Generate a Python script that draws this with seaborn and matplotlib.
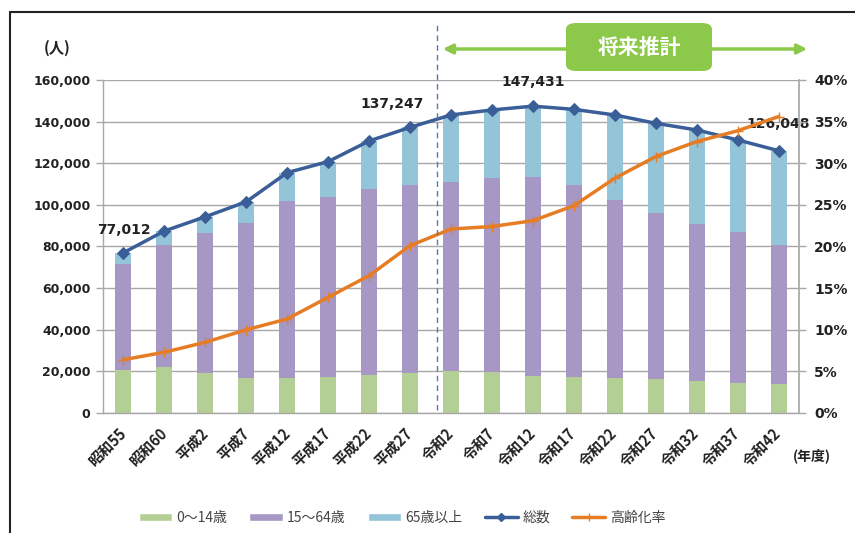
import matplotlib

matplotlib.use("Agg")
import matplotlib.pyplot as plt
import numpy as np
import seaborn as sns
from matplotlib.lines import Line2D
from matplotlib.patches import FancyArrowPatch, FancyBboxPatch, Patch

# data
years = ["昭和55", "昭和60", "平成2", "平成7", "平成12", "平成17", "平成22", "平成27",
         "令和2", "令和7", "令和12", "令和17", "令和22", "令和27", "令和32", "令和37", "令和42"]
young = [20700, 22250, 19100, 16700, 16700, 17450, 18250, 19400,
         20300, 19700, 17800, 17300, 17000, 16200, 15400, 14600, 13900]
working = [50900, 58450, 67200, 74800, 85200, 86450, 89250, 90200,
           90900, 93400, 95600, 92100, 85200, 79900, 75600, 72200, 66700]
elderly = [5412, 6750, 8000, 10000, 13600, 16900, 23200, 27647,
           32000, 32500, 34031, 36500, 41000, 43100, 45000, 44400, 45448]
total = [77012, 87450, 94300, 101500, 115500, 120800, 130700, 137247,
         143200, 145600, 147431, 145900, 143200, 139200, 136000, 131200, 126048]
aging_rate = [6.4, 7.3, 8.5, 10.0, 11.3, 13.9, 16.5, 20.1,
              22.1, 22.4, 23.1, 24.9, 28.2, 30.8, 32.6, 33.9, 35.6]
labelled = {0: "77,012", 7: "137,247", 10: "147,431", 16: "126,048"}

C_YOUNG = "#b4cf95"
C_WORK = "#a697c5"
C_OLD = "#93c4d8"
C_TOTAL = "#3a5f98"
C_RATE = "#e67d25"
C_GREEN = "#8cc94a"
GRID = "#a8a8a8"

sns.set_theme(style="white")
plt.rcParams["font.family"] = ["DejaVu Sans", "Noto Sans CJK JP"]
JP = ["Noto Sans CJK JP", "DejaVu Sans"]

fig = plt.figure(figsize=(8.55, 5.33), dpi=100)
ax = fig.add_axes([103 / 855, 1 - 413 / 533, 696 / 855, 333 / 533])

n = len(years)
x = np.arange(n)
mid = np.array(young) + np.array(working)
top = mid + np.array(elderly)

# stacked bars, drawn back to front
sns.barplot(x=x, y=top, color=C_OLD, width=0.39, saturation=1, ax=ax, zorder=2)
sns.barplot(x=x, y=mid, color=C_WORK, width=0.39, saturation=1, ax=ax, zorder=2)
sns.barplot(x=x, y=young, color=C_YOUNG, width=0.39, saturation=1, ax=ax, zorder=2)
for p in ax.patches:
    p.set_edgecolor("none")

sns.lineplot(x=x, y=total, color=C_TOTAL, lw=2.5, marker="D", markersize=6,
             markeredgecolor=C_TOTAL, ax=ax, zorder=4)

ax.set_ylim(0, 160000)
ax.set_xlim(-0.5, n - 0.5)
ax.set_yticks(np.arange(0, 160001, 20000))
ax.set_yticklabels([f"{v:,}" for v in range(0, 160001, 20000)],
                   fontsize=9, fontweight="bold", color="#222222")
ax.yaxis.grid(True, color=GRID, lw=1, zorder=0)
ax.set_axisbelow(True)
ax.set_xticks(x)
ax.set_xticklabels(years, rotation=45, ha="right", va="center", rotation_mode="anchor",
                   family=JP, fontsize=10.5, fontweight="bold", color="#222222")
ax.set_xticks(np.arange(n + 1) - 0.5, minor=True)
ax.tick_params(axis="x", which="major", length=0, pad=13)
ax.tick_params(axis="x", which="minor", length=5, color=GRID, width=1, direction="out")
ax.tick_params(axis="y", length=5, color=GRID, width=1, direction="out", left=True, pad=4)
ax.set_xlabel("")
ax.set_ylabel("")
for s in ["top", "right"]:
    ax.spines[s].set_visible(False)
for s in ["left", "bottom"]:
    ax.spines[s].set_color(GRID)
    ax.spines[s].set_linewidth(1)

offsets = {0: (0, 11), 7: (-13, 12), 10: (0, 12), 16: (0, 14)}
for i, txt in labelled.items():
    ax.annotate(txt, (i, total[i]), xytext=offsets[i], textcoords="offset points",
                ha="center", va="bottom",
                fontsize=10, fontweight="bold", color="#222222", zorder=6)

# aging rate on the right axis
ax2 = ax.twinx()
sns.lineplot(x=x, y=aging_rate, color=C_RATE, lw=2.5, marker="+", markersize=7,
             markeredgewidth=1, markeredgecolor=C_RATE, ax=ax2, zorder=5)
ax2.set_ylim(0, 40)
ax2.set_yticks(np.arange(0, 41, 5))
ax2.set_yticklabels([f"{v}%" for v in range(0, 41, 5)],
                    fontsize=10, fontweight="bold", color="#222222")
ax2.tick_params(axis="y", length=5, color=GRID, width=1, direction="out", right=True, pad=6)
ax2.grid(False)
ax2.set_ylabel("")
for s in ["top", "left", "bottom"]:
    ax2.spines[s].set_visible(False)
ax2.spines["right"].set_color(GRID)

# outer frame (left and top edges visible)
fig.add_artist(Line2D([10 / 855, 10 / 855], [0, 1 - 12 / 533], color="#222222", lw=1.5))
fig.add_artist(Line2D([10 / 855, 1], [1 - 12 / 533, 1 - 12 / 533], color="#222222", lw=1.5))

fig.text(57 / 855, 1 - 48 / 533, "(人)", family=JP, fontsize=11, fontweight="bold",
         ha="center", va="center", color="#222222")
fig.text(812 / 855, 1 - 456 / 533, "(年度)", family=JP, fontsize=10, fontweight="bold",
         ha="center", va="center", color="#222222")

# projection marker: dashed line, arrow and label box
fig.add_artist(Line2D([437 / 855, 437 / 855], [1 - 410 / 533, 1 - 24 / 533],
                      color="#4a7fb0", lw=1, ls=(0, (4, 3))))
fig.add_artist(FancyArrowPatch(
    (440 / 855, 1 - 49 / 533), (810 / 855, 1 - 49 / 533), transform=fig.transFigure,
    arrowstyle="<|-|>", mutation_scale=14, color=C_GREEN, lw=2.5))
fig.add_artist(FancyBboxPatch((566 / 855, 1 - 71 / 533), 146 / 855, 48 / 533,
                              boxstyle="round,pad=0,rounding_size=0.012",
                              transform=fig.transFigure, facecolor=C_GREEN,
                              edgecolor="none", zorder=5))
fig.text(639 / 855, 1 - 47 / 533, "将来推計", family=JP, fontsize=15, fontweight="bold",
         ha="center", va="center", color="white", zorder=6)

handles = [
    Patch(facecolor=C_YOUNG, label="0～14歳"),
    Patch(facecolor=C_WORK, label="15～64歳"),
    Patch(facecolor=C_OLD, label="65歳以上"),
    Line2D([], [], color=C_TOTAL, lw=2.5, marker="D", markersize=4, label="総数"),
    Line2D([], [], color=C_RATE, lw=2.5, marker="+", markersize=6, label="高齢化率"),
]
fig.legend(handles=handles, loc="center", bbox_to_anchor=(402 / 855, 1 - 518 / 533),
           ncol=5, frameon=False, prop={"family": JP, "size": 10},
           labelcolor="#444444", handlelength=2.4, handleheight=0.55,
           handletextpad=0.3, columnspacing=1.6)

fig.savefig("out.png", dpi=100)
